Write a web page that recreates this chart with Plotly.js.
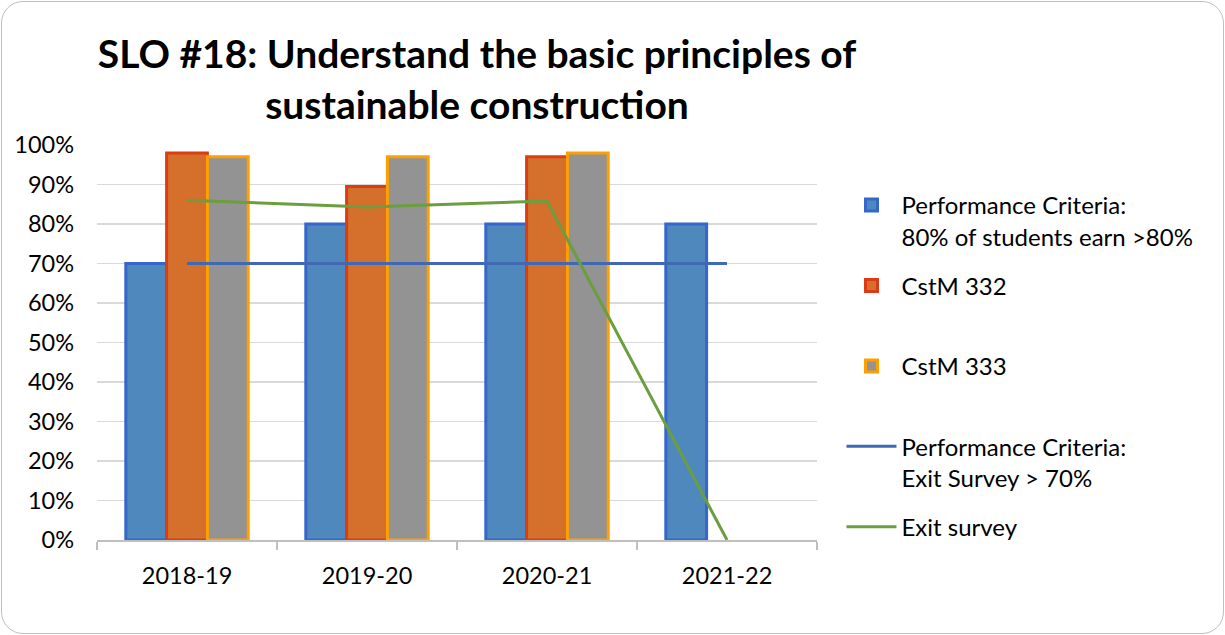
<!DOCTYPE html>
<html>
<head>
<meta charset="utf-8">
<script src="https://cdn.plot.ly/plotly-3.0.1.min.js"></script>
<style>
  html, body { margin: 0; padding: 0; background: #ffffff; }
  #wrap { position: relative; width: 1225px; height: 635px; }
  #chart { width: 1225px; height: 635px; }
  #frame { position: absolute; left: 1px; top: 1px; width: 1221px; height: 631px;
           border: 1px solid #bfbfbf; border-radius: 22px; pointer-events: none; }
</style>
</head>
<body>
<div id="wrap">
  <div id="chart"></div>
  <div id="frame"></div>
</div>
<script>
// ---- Data ----
const categories = ["2018-19", "2019-20", "2020-21", "2021-22"];
const criteriaBars = [0.70, 0.80, 0.80, 0.80];
const cstm332 = [0.98, 0.895, 0.97, null];
const cstm333 = [0.97, 0.97, 0.98, null];
const criteriaLine = [0.70, 0.70, 0.70, 0.70];
const exitSurvey = [0.86, 0.843, 0.858, 0.0];

const seriesNames = [
  "Performance Criteria:<br>80% of students earn >80%",
  "CstM 332<br>\u00a0",
  "CstM 333<br>\u00a0",
  "Performance Criteria:<br>Exit Survey > 70%",
  "Exit survey<br>\u00a0"
];
const yTickVals = [0, 0.1, 0.2, 0.3, 0.4, 0.5, 0.6, 0.7, 0.8, 0.9, 1.0];
const yTickText = ["0%", "10%", "20%", "30%", "40%", "50%", "60%", "70%", "80%", "90%", "100%"];

const FONT = "Lato, 'Liberation Sans', sans-serif";

const traces = [
  { type: "bar", x: categories, y: criteriaBars, name: seriesNames[0], legendgroup: "g1",
    marker: { color: "#4f88bd", line: { color: "#3566cc", width: 3 } } },
  { type: "bar", x: categories, y: cstm332, name: seriesNames[1], legendgroup: "g2",
    marker: { color: "#d4702b", line: { color: "#dc3c14", width: 3 } } },
  { type: "bar", x: categories, y: cstm333, name: seriesNames[2], legendgroup: "g3",
    marker: { color: "#939393", line: { color: "#ffa000", width: 3 } } },
  { type: "scatter", mode: "lines", x: categories, y: criteriaLine, name: seriesNames[3], legendgroup: "g4",
    line: { color: "#4169b3", width: 3 } },
  { type: "scatter", mode: "lines", x: categories, y: exitSurvey, name: seriesNames[4], legendgroup: "g5",
    line: { color: "#6a9e3f", width: 3 } }
];

const layout = {
  width: 1225, height: 635,
  paper_bgcolor: "rgba(0,0,0,0)", plot_bgcolor: "rgba(0,0,0,0)",
  margin: { l: 97, r: 408, t: 145, b: 95 },
  font: { family: FONT, size: 23, color: "#000000" },
  title: {
    text: "<b>SLO #18: Understand the basic principles of<br>sustainable construction</b>",
    font: { family: FONT, size: 39, color: "#000000" },
    x: 477 / 1225, xanchor: "center", xref: "container",
    y: 1 - 68 / 635, yanchor: "middle", yref: "container"
  },
  barmode: "group", bargap: 0.32, bargroupgap: 0,
  xaxis: {
    type: "category", showgrid: false, zeroline: false,
    showline: true, linecolor: "#bfbfbf", linewidth: 1.5,
    ticks: "outside", tickson: "boundaries", ticklen: 8, tickcolor: "#bfbfbf", tickwidth: 1.5,
    tickfont: { family: FONT, size: 23.5, color: "#000000" },
    ticklabelstandoff: 14
  },
  yaxis: {
    range: [0, 1.0], tickvals: yTickVals, ticktext: yTickText,
    showgrid: true, gridcolor: "#d9d9d9", gridwidth: 1.5,
    zeroline: false, showline: false, ticks: "",
    tickfont: { family: FONT, size: 23.5, color: "#000000" },
    ticklabelstandoff: 22
  },
  showlegend: true,
  legend: {
    x: 1.034, xanchor: "left", xref: "paper",
    y: (540 - 183) / 395, yanchor: "top", yref: "paper",
    font: { family: FONT, size: 24, color: "#000000" },
    traceorder: "grouped", tracegroupgap: 15, valign: "top",
    itemwidth: 50, bgcolor: "rgba(0,0,0,0)"
  },
  hovermode: false
};

Plotly.newPlot("chart", traces, layout, { displayModeBar: false, staticPlot: true });
</script>
</body>
</html>
